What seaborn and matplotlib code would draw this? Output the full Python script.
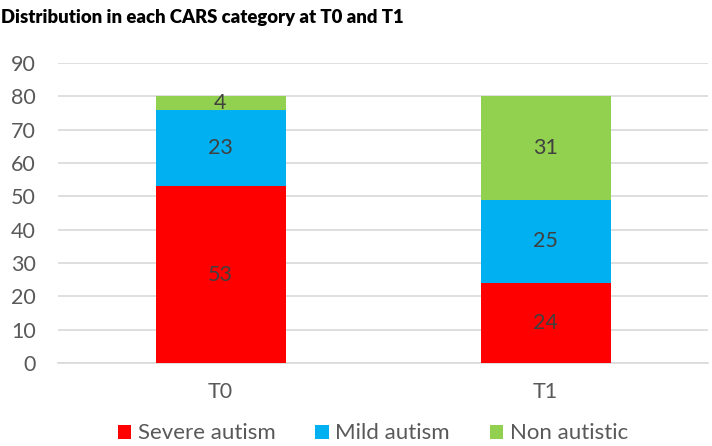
import numpy as np
import pandas as pd
import matplotlib.pyplot as plt
import seaborn as sns

# Data
timepoints = ["T0", "T1"]
categories = ["Severe autism", "Mild autism", "Non autistic"]
severe = [53, 24]
mild = [23, 25]
non_autistic = [4, 31]
colors = ["#FF0000", "#00B0F0", "#92D050"]

sns.set_theme(style="white")
plt.rcParams["font.family"] = ["Lato", "DejaVu Sans"]

fig = plt.figure(figsize=(7.12, 4.46), dpi=100)
ax = fig.add_axes([58 / 712, (446 - 363) / 446, 650 / 712, 300 / 446])

layers = [severe, mild, non_autistic]
cum = np.cumsum(np.array(layers), axis=0)

# draw cumulative totals from top down so each layer shows as a stacked segment
for i in reversed(range(len(categories))):
    df = pd.DataFrame({"time": timepoints, "value": cum[i]})
    sns.barplot(data=df, x="time", y="value", color=colors[i], width=0.4,
                saturation=1, ax=ax, label=categories[i], zorder=3,
                edgecolor="none", linewidth=0)

# segment labels
for i, vals in enumerate(layers):
    for j, v in enumerate(vals):
        base = cum[i][j] - v
        ax.text(j, base + v / 2, str(v), ha="center", va="center",
                fontsize=15.5, color="#404040", zorder=4)

ax.set_ylim(0, 90)
ax.set_xlim(-0.5, 1.5)
ax.set_yticks(range(0, 91, 10))
ax.yaxis.grid(True, color="#D9D9D9", linewidth=1.2, zorder=0)
ax.set_xlabel("")
ax.set_ylabel("")
for s in ["top", "right", "left"]:
    ax.spines[s].set_visible(False)
ax.spines["bottom"].set_color("#D9D9D9")
ax.spines["bottom"].set_linewidth(1.2)
ax.tick_params(axis="both", length=0, labelsize=15.5, colors="#595959")
ax.tick_params(axis="x", pad=14)
ax.tick_params(axis="y", pad=16)

handles, labels = ax.get_legend_handles_labels()
order = [labels.index(c) for c in categories]
ax.legend([handles[k] for k in order], [labels[k] for k in order],
          loc="lower center", bbox_to_anchor=(0.5 - 10 / 650, -0.32), ncol=3,
          frameon=False, fontsize=16, handlelength=0.6, handleheight=0.6,
          handletextpad=0.3, columnspacing=1.8, labelcolor="#595959",
          borderpad=0.2)

fig.text(1 / 712, 1 - 18 / 446, "Distribution in each CARS category at T0 and T1",
         fontsize=13.3, fontweight="heavy", color="black", va="center", ha="left")

fig.savefig("out.png", dpi=100)
